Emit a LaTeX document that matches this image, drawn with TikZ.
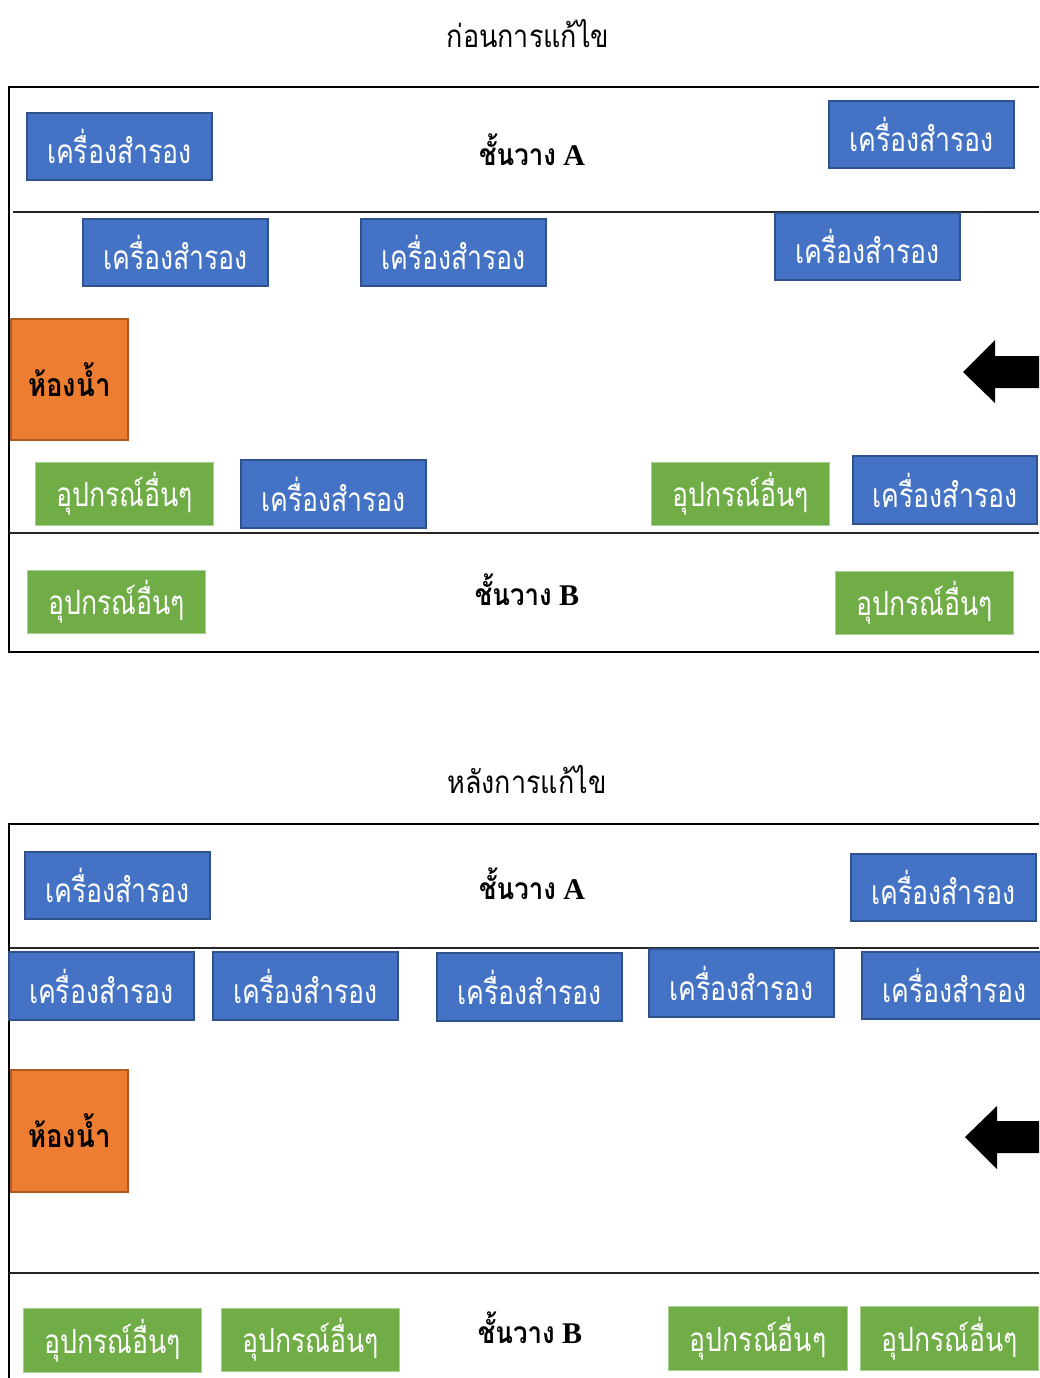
\documentclass[tikz,border=0pt]{standalone}
\usepackage{fontspec}
\setmainfont{Liberation Serif}
\newfontfamily\thai[Script=Thai]{Loma}
\newfontfamily\thaibox[Script=Thai,FakeStretch=0.8]{Loma}
\newfontfamily\thaiwide[Script=Thai,FakeStretch=0.86]{Loma}
\begin{document}
\begin{tikzpicture}[x=0.75pt,y=-0.75pt,
  frame/.style={line width=2.2pt,black},
  shelf/.style={line width=1.1pt,black!85},
  bluebox/.style={fill={rgb,255:red,68;green,114;blue,196},draw={rgb,255:red,47;green,82;blue,143},line width=1.4pt,minimum width=138.5pt,minimum height=50.5pt,inner sep=0pt,text=white,font=\thaibox\fontsize{25}{28}\selectfont},
  greenbox/.style={fill={rgb,255:red,112;green,173;blue,71},draw={rgb,255:red,169;green,209;blue,142},line width=0.6pt,minimum width=134pt,minimum height=47.5pt,inner sep=0pt,text=white,font=\thaibox\fontsize{25}{28}\selectfont},
  wcbox/.style={fill={rgb,255:red,237;green,125;blue,49},draw={rgb,255:red,174;green,90;blue,33},line width=1.4pt,minimum width=87.5pt,minimum height=91pt,inner sep=0pt,text=black,font=\thaiwide\bfseries\fontsize{24}{28}\selectfont},
  shelflabel/.style={inner sep=0pt,font=\bfseries\fontsize{22.5}{26}\selectfont},
  title/.style={inner sep=0pt,font=\thaiwide\fontsize{23.5}{26}\selectfont}]
\useasboundingbox (0,0) rectangle (1039,1378);
% ---------- panel 1 ----------
\node[title] (t1) at (528,34) {ก่อนการแก้ไข};
\draw[frame] (1039,87) -- (9,87) -- (9,652) -- (1039,652);
\draw[shelf] (13,212) -- (1039,212);
\draw[shelf] (9,533) -- (1039,533);
\node[shelflabel] (la1) at (532,150) {{\thaiwide ชั้นวาง} A};
\node[shelflabel] (lb1) at (527,590) {{\thaiwide ชั้นวาง} B};
\node[bluebox] (p1a) at (119.5,146.5) {เครื่องสำรอง};
\node[bluebox] (p1b) at (921.5,134.5) {เครื่องสำรอง};
\node[bluebox] (p1c) at (175.5,252.5) {เครื่องสำรอง};
\node[bluebox] (p1d) at (453.5,252.5) {เครื่องสำรอง};
\node[bluebox] (p1e) at (867.5,246.5) {เครื่องสำรอง};
\node[wcbox] (p1w) at (69.5,379.5) {ห้องน้ำ};
\fill[black] (963,372) -- (995,340) -- (995,356) -- (1039,356) -- (1039,388) -- (995,388) -- (995,403) -- cycle;
\node[greenbox] (p1g1) at (124.5,494) {อุปกรณ์อื่นๆ};
\node[bluebox] (p1f) at (333.5,494) {เครื่องสำรอง};
\node[greenbox] (p1g2) at (740.5,494) {อุปกรณ์อื่นๆ};
\node[bluebox] (p1g) at (945,490) {เครื่องสำรอง};
\node[greenbox] (p1g3) at (116.5,602) {อุปกรณ์อื่นๆ};
\node[greenbox] (p1g4) at (924.5,603) {อุปกรณ์อื่นๆ};
% ---------- panel 2 ----------
\node[title] (t2) at (527,780) {หลังการแก้ไข};
\draw[frame] (1039,824) -- (9,824) -- (9,1378);
\draw[shelf] (9,948) -- (1039,948);
\draw[shelf] (9,1273) -- (1039,1273);
\node[shelflabel] (la2) at (532,884) {{\thaiwide ชั้นวาง} A};
\node[shelflabel] (lb2) at (530,1328) {{\thaiwide ชั้นวาง} B};
\node[bluebox] (q1a) at (117.5,885.5) {เครื่องสำรอง};
\node[bluebox] (q1b) at (943.5,887.5) {เครื่องสำรอง};
\node[bluebox] (q2a) at (101.5,986) {เครื่องสำรอง};
\node[bluebox] (q2b) at (305.5,986) {เครื่องสำรอง};
\node[bluebox] (q2c) at (529.5,987) {เครื่องสำรอง};
\node[bluebox] (q2d) at (741.5,983) {เครื่องสำรอง};
\node[bluebox] (q2e) at (954.5,985.5) {เครื่องสำรอง};
\node[wcbox] (q2w) at (69.5,1131) {ห้องน้ำ};
\fill[black] (965,1137) -- (997,1106) -- (997,1121) -- (1039,1121) -- (1039,1153) -- (997,1153) -- (997,1169) -- cycle;
\node[greenbox] (q3a) at (112.5,1340.5) {อุปกรณ์อื่นๆ};
\node[greenbox] (q3b) at (310.5,1340) {อุปกรณ์อื่นๆ};
\node[greenbox] (q3c) at (758,1338.5) {อุปกรณ์อื่นๆ};
\node[greenbox] (q3d) at (949.5,1338.5) {อุปกรณ์อื่นๆ};
\end{tikzpicture}
\end{document}
